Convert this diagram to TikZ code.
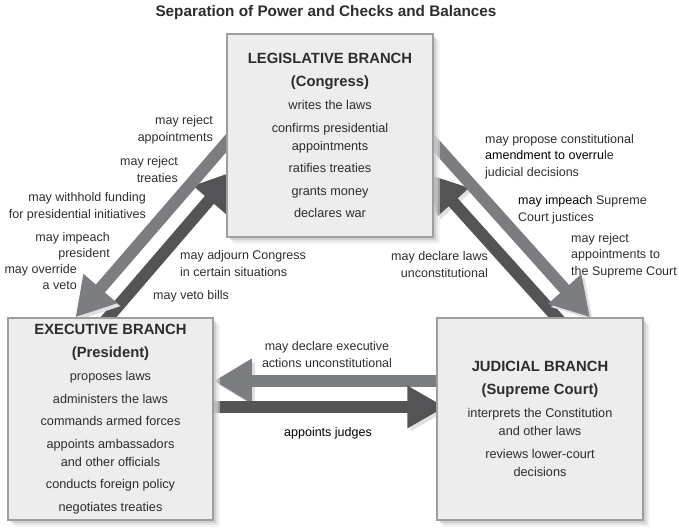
\documentclass[tikz,border=0pt]{standalone}
\usepackage{fontspec}
\setmainfont{Liberation Sans}
\usetikzlibrary{positioning,arrows.meta,calc,backgrounds,shadows}
\definecolor{cbBox}{RGB}{237,237,237}
\definecolor{cbEdge}{RGB}{158,158,160}
\definecolor{cbLight}{RGB}{124,125,128}
\definecolor{cbDark}{RGB}{84,84,86}
\definecolor{cbText}{RGB}{45,45,45}
\newcommand{\cbBody}{\fontsize{12.7bp}{18bp}\selectfont}
\newcommand{\cbHead}{\fontsize{14.8bp}{18bp}\selectfont\bfseries}
\newcommand{\cbNote}{\fontsize{12.5bp}{16.5bp}\selectfont}

\begin{document}
\begin{tikzpicture}[x=1bp, y=-1bp,
  branch/.style={draw=cbEdge, line width=1.5bp, fill=cbBox, inner sep=0pt,
    minimum width=206bp, minimum height=202bp, align=center, font=\cbBody, text=cbText,
    drop shadow={shadow xshift=7bp, shadow yshift=-7bp, fill=black!8},
    drop shadow={shadow xshift=5bp, shadow yshift=-5bp, fill=black!16},
    drop shadow={shadow xshift=3bp, shadow yshift=-3bp, fill=black!26}},
  note/.style={font=\cbNote, text=cbText, inner sep=0pt},
  halo/.style={preaction={draw=black!12, transform canvas={shift={(3bp,-3bp)}}}},
  light/.style={halo, cbLight, line width=12bp, -{Triangle[width=42bp,length=38bp]}},
  dark/.style={halo, cbDark, line width=12bp, -{Triangle[width=40bp,length=38bp]}}]
  \useasboundingbox (0,0) rectangle (679,528);

  \node[font=\fontsize{15.3bp}{18bp}\selectfont\bfseries, text=cbText] (title) at (326,13)
    {Separation of Power and Checks and Balances};

  % The three branches
  \node[branch, minimum height=203bp] (leg) at (330,135.5)
    {{\cbHead LEGISLATIVE BRANCH}\\[5bp]{\cbHead (Congress)}\\[5bp]writes the laws\\[4.5bp]%
     confirms presidential\\appointments\\[4.5bp]ratifies treaties\\[4.5bp]grants money\\[4.5bp]declares war};
  \node[branch, minimum width=205bp] (exe) at (110.5,419)
    {{\cbHead EXECUTIVE BRANCH}\\[5bp]{\cbHead (President)}\\[5bp]proposes laws\\[4.5bp]%
     administers the laws\\[4.5bp]commands armed forces\\[4.5bp]appoints ambassadors\\and other officials\\[4.5bp]%
     conducts foreign policy\\[4.5bp]negotiates treaties};
  \node[branch] (jud) at (540,419)
    {{\cbHead JUDICIAL BRANCH}\\[5bp]{\cbHead (Supreme Court)}\\[5bp]interprets the Constitution\\and other laws\\[4.5bp]%
     reviews lower-court\\decisions};

  % Checks between the branches
  \begin{pgfonlayer}{background}
    \draw[dark] ($(exe.north)+(-11.5,11)$) -- ($(leg.west)+(8,35.5)$);
    \draw[light] ($(leg.west)+(13,-7.5)$) -- ($(exe.north)+(-35,0)$);
    \draw[dark] ($(jud.north)+(26.5,11)$) -- ($(leg.east)+(-6,38.5)$);
    \draw[light] ($(leg.east)+(-13.5,-7.5)$) -- ($(jud.north)+(50,0)$);
    \draw[light] ($(jud.west)+(13,-38)$) -- ($(exe.east)+(0,-38)$);
    \draw[dark] ($(exe.east)+(-13,-12)$) -- ($(jud.west)+(9,-12)$);
  \end{pgfonlayer}

  % Labels, left pair
  \node[note, anchor=east, align=right] (rejA) at (213,130) {may reject\\appointments};
  \node[note, anchor=east, align=right] (rejT) at (178,169.5) {may reject\\treaties};
  \node[note, anchor=east, align=right] (fund) at (146,207) {may withhold funding\\for presidential initiatives};
  \node[note, anchor=east, align=right] (impP) at (110,246.5) {may impeach\\president};
  \node[note, anchor=east, align=right] (ovr) at (77,277) {may override\\a veto};
  \node[note, anchor=west, align=left] (adj) at (180,263.5) {may adjourn Congress\\in certain situations};
  \node[note, anchor=west] (veto) at (153,296) {may veto bills};

  % Labels, right pair
  \node[note, anchor=west, align=left] (amend) at (485,156.5)
    {may propose constitutional\\{\color{black}amendment to overru}le\\judicial decisions};
  \node[note, anchor=west, align=left] (impJ) at (518,210) {{\color{black}may impeach} Supreme\\Court justices};
  \node[note, anchor=west, align=left] (rejS) at (571,255.5) {may reject\\appointments to\\the Supreme Court};
  \node[note, anchor=east, align=right] (declL) at (488,264.5) {may declare laws\\unconstitutional};

  % Labels, bottom pair
  \node[note, align=center] (declE) at (327,354.5) {may declare executive\\actions unconstitutional};
  \node[note, text=black] (appJ) at (328,433) {appoints judges};
\end{tikzpicture}
\end{document}
